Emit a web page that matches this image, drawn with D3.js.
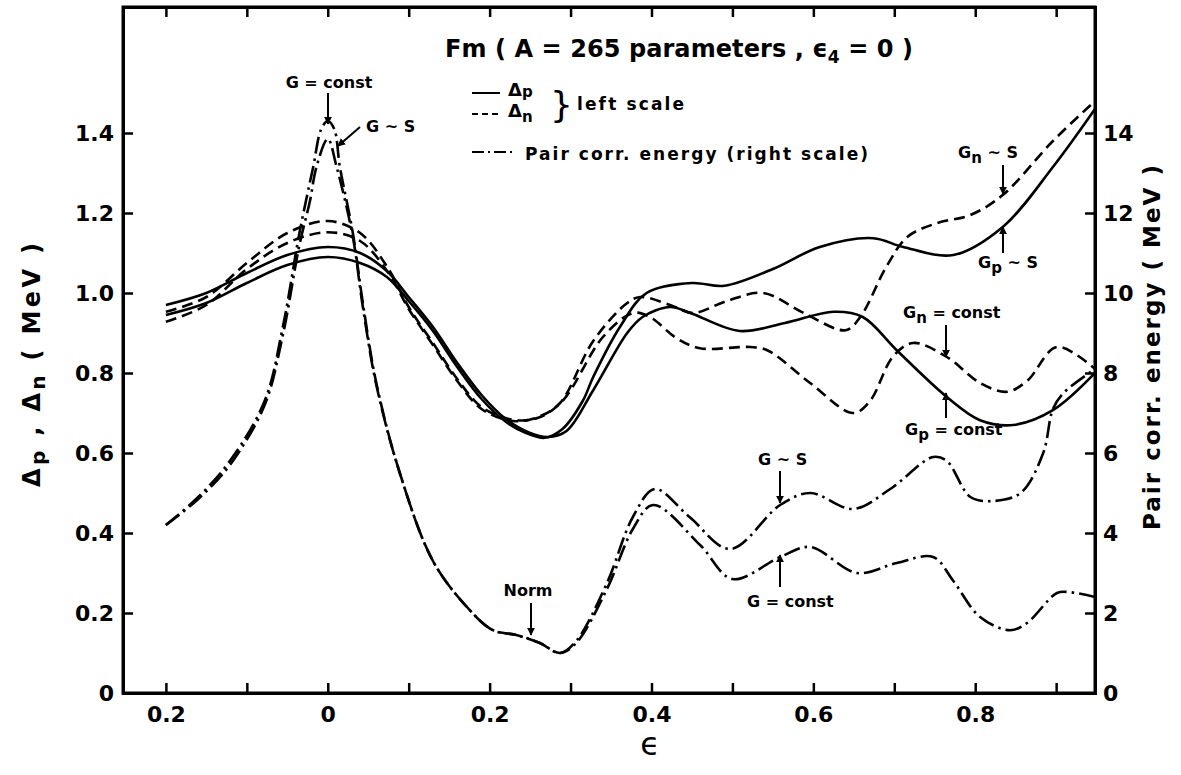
<!DOCTYPE html>
<html>
<head>
<meta charset="utf-8">
<script src="https://cdn.jsdelivr.net/npm/d3@7"></script>
<style>
  body { margin: 0; background: #fff; }
  text { font-family: "DejaVu Sans", sans-serif; font-weight: bold; fill: #000; }
</style>
</head>
<body>
<div id="chart"></div>
<script>
// Gap parameters (left scale, MeV) vs deformation epsilon
var gpConst = [[-0.2,0.97],[-0.15,1.0],[-0.1,1.05],[-0.05,1.095],[0,1.115],[0.04,1.1],[0.073,1.055],[0.1,0.99],[0.13,0.915],[0.16,0.825],[0.19,0.745],[0.22,0.685],[0.25,0.65],[0.272,0.64],[0.295,0.655],[0.328,0.757],[0.37,0.9],[0.389,0.94],[0.423,0.965],[0.448,0.95],[0.509,0.905],[0.565,0.925],[0.625,0.953],[0.661,0.94],[0.703,0.857],[0.765,0.74],[0.806,0.682],[0.847,0.67],[0.896,0.707],[0.948,0.80]];
var gpS = [[-0.2,0.945],[-0.15,0.975],[-0.1,1.025],[-0.05,1.07],[0,1.09],[0.04,1.075],[0.073,1.04],[0.1,0.98],[0.13,0.905],[0.16,0.815],[0.19,0.735],[0.22,0.678],[0.245,0.65],[0.268,0.638],[0.29,0.66],[0.315,0.73],[0.328,0.79],[0.361,0.915],[0.394,1.0],[0.45,1.025],[0.49,1.018],[0.55,1.06],[0.608,1.115],[0.674,1.137],[0.711,1.115],[0.773,1.095],[0.834,1.165],[0.896,1.315],[0.948,1.46]];
var gnConst = [[-0.2,0.953],[-0.15,0.99],[-0.1,1.075],[-0.05,1.15],[0,1.18],[0.04,1.15],[0.075,1.06],[0.1,0.965],[0.13,0.875],[0.16,0.785],[0.19,0.715],[0.229,0.683],[0.26,0.688],[0.29,0.73],[0.34,0.89],[0.377,0.95],[0.398,0.94],[0.431,0.887],[0.46,0.862],[0.522,0.865],[0.543,0.857],[0.596,0.775],[0.649,0.70],[0.67,0.73],[0.698,0.84],[0.723,0.875],[0.765,0.84],[0.806,0.775],[0.839,0.753],[0.864,0.78],[0.901,0.865],[0.948,0.81]];
var gnS = [[-0.2,0.928],[-0.15,0.97],[-0.1,1.06],[-0.05,1.125],[0,1.152],[0.04,1.13],[0.075,1.05],[0.1,0.96],[0.13,0.87],[0.16,0.78],[0.19,0.71],[0.229,0.68],[0.26,0.69],[0.287,0.725],[0.328,0.88],[0.37,0.975],[0.386,0.99],[0.423,0.97],[0.451,0.95],[0.493,0.98],[0.538,1.0],[0.588,0.95],[0.64,0.907],[0.658,0.94],[0.69,1.065],[0.716,1.14],[0.753,1.175],[0.794,1.195],[0.834,1.245],[0.896,1.38],[0.948,1.48]];

// Pair correlation energy (right scale, MeV)
var pairConst = [[-0.2,4.2],[-0.16,4.9],[-0.121,5.8],[-0.078,7.3],[-0.056,9.1],[-0.035,11.5],[-0.018,13.15],[-0.008,14.1],[0,14.3],[0.008,14.1],[0.015,13.15],[0.031,11.5],[0.043,9.8],[0.06,7.75],[0.089,5.5],[0.13,3.3],[0.172,2.15],[0.204,1.57],[0.233,1.45],[0.262,1.25],[0.287,1.0],[0.307,1.25],[0.345,2.6],[0.377,4.1],[0.402,4.7],[0.46,3.7],[0.5,2.85],[0.559,3.4],[0.596,3.65],[0.654,3.0],[0.703,3.25],[0.748,3.4],[0.773,2.8],[0.806,1.9],[0.843,1.57],[0.864,1.75],[0.901,2.5],[0.917,2.52],[0.948,2.4]];
var pairS = [[-0.2,4.2],[-0.16,4.85],[-0.121,5.7],[-0.078,7.2],[-0.056,8.9],[-0.035,11.2],[-0.022,12.3],[-0.014,13.15],[0,13.85],[0.011,13.15],[0.031,11.4],[0.043,9.7],[0.06,7.7],[0.089,5.5],[0.13,3.3],[0.172,2.15],[0.204,1.57],[0.233,1.45],[0.262,1.25],[0.287,1.0],[0.307,1.3],[0.345,2.75],[0.377,4.4],[0.404,5.1],[0.447,4.4],[0.497,3.6],[0.559,4.7],[0.596,5.0],[0.649,4.6],[0.695,5.1],[0.748,5.9],[0.765,5.8],[0.794,4.9],[0.822,4.8],[0.856,5.0],[0.884,6.0],[0.896,7.1],[0.909,7.5],[0.948,8.1]];

// Tick values
var xTicks = [-0.2,-0.1,0,0.1,0.2,0.3,0.4,0.5,0.6,0.7,0.8,0.9];
var xLabels = {"-0.2":"0.2","0":"0","0.2":"0.2","0.4":"0.4","0.6":"0.6","0.8":"0.8"};
var leftTicks = [0,0.2,0.4,0.6,0.8,1.0,1.2,1.4];
var rightTicks = [0,2,4,6,8,10,12,14];

var width = 1181, height = 775;
var plot = { left: 123, right: 1095, top: 7, bottom: 693 };

var svg = d3.select("#chart").append("svg")
  .attr("width", width)
  .attr("height", height);

var x = d3.scaleLinear().domain([-0.253, 0.948]).range([plot.left, plot.right]);
var yL = d3.scaleLinear().domain([0, 1.715]).range([plot.bottom, plot.top]);
var yR = d3.scaleLinear().domain([0, 17.15]).range([plot.bottom, plot.top]);

// clip for the curves
svg.append("clipPath").attr("id", "clip")
  .append("rect")
  .attr("x", plot.left).attr("y", plot.top)
  .attr("width", plot.right - plot.left).attr("height", plot.bottom - plot.top);

// Axes, ticks pointing inward
function styleAxis(g) {
  g.select(".domain").attr("stroke", "#000").attr("stroke-width", 3);
  g.selectAll(".tick line").attr("stroke", "#000").attr("stroke-width", 2.5);
  g.selectAll("text").style("font-size", "22px").style("font-family", "DejaVu Sans").style("font-weight", "bold");
}

svg.append("g")
  .attr("transform", "translate(0," + plot.bottom + ")")
  .call(d3.axisBottom(x).tickValues(xTicks).tickSizeOuter(0).tickSize(-10).tickPadding(13)
    .tickFormat(d => xLabels[String(+d.toFixed(1))] || ""))
  .call(styleAxis);

svg.append("g")
  .attr("transform", "translate(0," + plot.top + ")")
  .call(d3.axisTop(x).tickValues(xTicks).tickSizeOuter(0).tickSize(-10).tickFormat(""))
  .call(styleAxis);

svg.append("g")
  .attr("transform", "translate(" + plot.left + ",0)")
  .call(d3.axisLeft(yL).tickValues(leftTicks).tickSizeOuter(0).tickSize(-10).tickPadding(9)
    .tickFormat(d => d === 0 ? "0" : d.toFixed(1)))
  .call(styleAxis);

svg.append("g")
  .attr("transform", "translate(" + plot.right + ",0)")
  .call(d3.axisRight(yR).tickValues(rightTicks).tickSizeOuter(0).tickSize(-10).tickPadding(8)
    .tickFormat(d => String(d)))
  .call(styleAxis);

svg.append("rect")
  .attr("x", plot.left).attr("y", plot.top)
  .attr("width", plot.right - plot.left).attr("height", plot.bottom - plot.top)
  .attr("fill", "none").attr("stroke", "#000").attr("stroke-width", 3);

// Curves
var lineL = d3.line().x(d => x(d[0])).y(d => yL(d[1])).curve(d3.curveCatmullRom.alpha(0.5));
var lineR = d3.line().x(d => x(d[0])).y(d => yR(d[1])).curve(d3.curveCatmullRom.alpha(0.5));

var dashed = "11,6";
var dashDot = "17,5,2.5,5";

var curves = svg.append("g").attr("clip-path", "url(#clip)");
[
  { data: gpConst, line: lineL, dash: null },
  { data: gpS, line: lineL, dash: null },
  { data: gnConst, line: lineL, dash: dashed },
  { data: gnS, line: lineL, dash: dashed },
  { data: pairConst, line: lineR, dash: dashDot },
  { data: pairS, line: lineR, dash: dashDot }
].forEach(function(c) {
  curves.append("path")
    .datum(c.data)
    .attr("fill", "none")
    .attr("stroke", "#000")
    .attr("stroke-width", 2.6)
    .attr("stroke-dasharray", c.dash)
    .attr("d", c.line);
});

// Arrow marker
svg.append("defs").append("marker")
  .attr("id", "arrow")
  .attr("viewBox", "0 0 10 10")
  .attr("refX", 9).attr("refY", 5)
  .attr("markerWidth", 4).attr("markerHeight", 5)
  .attr("orient", "auto")
  .append("path").attr("d", "M0,0 L10,5 L0,10 Z").attr("fill", "#000");

// Annotations: label text and arrows
var notes = [
  { x: 329, y: 88, anchor: "middle", parts: [["G = const"]], arrow: [328, 93, 328, 124] },
  { x: 366, y: 132, anchor: "start", parts: [["G ~ S"]], arrow: [360, 127, 338, 146] },
  { x: 528, y: 596, anchor: "middle", parts: [["Norm"]], arrow: [531, 603, 531, 635] },
  { x: 758, y: 465, anchor: "start", parts: [["G ~ S"]], arrow: [780, 471, 780, 503] },
  { x: 747, y: 607, anchor: "start", parts: [["G = const"]], arrow: [780, 587, 780, 555] },
  { x: 958, y: 158, anchor: "start", parts: [["G"], ["n", "sub"], [" ~ S"]], arrow: [1003, 165, 1003, 194] },
  { x: 978, y: 268, anchor: "start", parts: [["G"], ["p", "sub"], [" ~ S"]], arrow: [1003, 253, 1003, 227] },
  { x: 903, y: 318, anchor: "start", parts: [["G"], ["n", "sub"], [" = const"]], arrow: [946, 325, 946, 357] },
  { x: 905, y: 435, anchor: "start", parts: [["G"], ["p", "sub"], [" = const"]], arrow: [946, 418, 946, 393] }
];

notes.forEach(function(n) {
  var t = svg.append("text")
    .attr("x", n.x).attr("y", n.y)
    .attr("text-anchor", n.anchor)
    .style("font-size", "16px");
  n.parts.forEach(function(p) {
    var s = t.append("tspan").text(p[0]);
    if (p[1] === "sub") s.attr("dy", 5).style("font-size", "15px");
    else if (n.parts.length > 1 && p !== n.parts[0]) s.attr("dy", -5);
  });
  svg.append("line")
    .attr("x1", n.arrow[0]).attr("y1", n.arrow[1])
    .attr("x2", n.arrow[2]).attr("y2", n.arrow[3])
    .attr("stroke", "#000").attr("stroke-width", 2)
    .attr("marker-end", "url(#arrow)");
});

// Title
var title = svg.append("text")
  .attr("x", 445).attr("y", 57)
  .style("font-size", "24px")
  .attr("textLength", 468)
  .attr("lengthAdjust", "spacing");
title.append("tspan").text("Fm ( A  = 265  parameters ,  \u03F5");
title.append("tspan").text("4").attr("dy", 6).style("font-size", "17px");
title.append("tspan").text(" = 0 )").attr("dy", -6);

// Legend
var legend = svg.append("g");
legend.append("line").attr("x1", 472).attr("x2", 500).attr("y1", 93).attr("y2", 93)
  .attr("stroke", "#000").attr("stroke-width", 2);
legend.append("line").attr("x1", 472).attr("x2", 500).attr("y1", 114).attr("y2", 114)
  .attr("stroke", "#000").attr("stroke-width", 2).attr("stroke-dasharray", "6,4");
legend.append("line").attr("x1", 472).attr("x2", 512).attr("y1", 152).attr("y2", 152)
  .attr("stroke", "#000").attr("stroke-width", 2).attr("stroke-dasharray", "12,4,2,4");

var lp = legend.append("text").attr("x", 508).attr("y", 96).style("font-size", "18px");
lp.append("tspan").text("\u0394");
lp.append("tspan").text("p").attr("dy", 1).style("font-size", "15px");
var ln = legend.append("text").attr("x", 508).attr("y", 117).style("font-size", "18px");
ln.append("tspan").text("\u0394");
ln.append("tspan").text("n").attr("dy", 5).style("font-size", "15px");

legend.append("text").attr("x", 550).attr("y", 117)
  .style("font-size", "36px").style("font-weight", "normal").text("}");
legend.append("text").attr("x", 577).attr("y", 110)
  .style("font-size", "17px").attr("textLength", 107).attr("lengthAdjust", "spacing")
  .text("left  scale");
legend.append("text").attr("x", 525).attr("y", 160)
  .style("font-size", "17px").attr("textLength", 343).attr("lengthAdjust", "spacing")
  .text("Pair  corr.  energy  (right  scale)");

// Axis titles
svg.append("text")
  .attr("x", 650).attr("y", 755)
  .attr("text-anchor", "middle")
  .style("font-size", "32px").style("font-weight", "normal")
  .text("\u03F5");

var yLabel = svg.append("text")
  .attr("transform", "translate(40,487) rotate(-90)")
  .style("font-size", "24px")
  .attr("textLength", 244).attr("lengthAdjust", "spacing");
yLabel.append("tspan").text("\u0394");
yLabel.append("tspan").text("p").attr("dy", 5).style("font-size", "20px");
yLabel.append("tspan").text(" , \u0394").attr("dy", -5);
yLabel.append("tspan").text("n").attr("dy", 5).style("font-size", "20px");
yLabel.append("tspan").text("   ( MeV )").attr("dy", -5);

svg.append("text")
  .attr("transform", "translate(1160,530) rotate(-90)")
  .style("font-size", "23px")
  .attr("textLength", 365).attr("lengthAdjust", "spacing")
  .text("Pair  corr.  energy   ( MeV )");
</script>
</body>
</html>
